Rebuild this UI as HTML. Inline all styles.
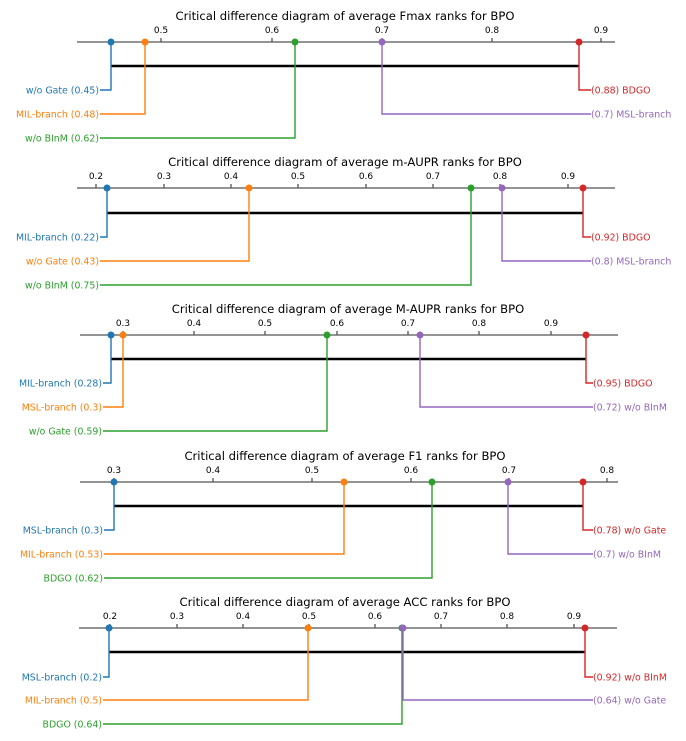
<!DOCTYPE html>
<html><head><meta charset="utf-8"><style>
html,body{margin:0;padding:0;background:#fff}
svg{display:block}
text{font-family:"DejaVu Sans","Liberation Sans",sans-serif}
.t{font-size:11.6px;fill:#000;text-anchor:middle}
.k{font-size:9px;fill:#000;text-anchor:middle}
.l{font-size:9.4px;text-anchor:end}
.r{font-size:9.4px;text-anchor:start}
.ax{stroke:#555;stroke-width:1.3}
.bar{stroke:#000;stroke-width:2.5}
polyline{fill:none;stroke-width:1.4}
</style></head><body>
<svg width="686" height="741" viewBox="0 0 686 741" xmlns="http://www.w3.org/2000/svg">
<!-- Panel 1 -->
<text class="t" x="345" y="20">Critical difference diagram of average Fmax ranks for BPO</text>
<line class="ax" x1="77" y1="42" x2="615" y2="42"/>
<g class="ax"><line x1="161" y1="38" x2="161" y2="42"/><line x1="272" y1="38" x2="272" y2="42"/><line x1="382" y1="38" x2="382" y2="42"/><line x1="492" y1="38" x2="492" y2="42"/><line x1="601" y1="38" x2="601" y2="42"/></g>
<text class="k" x="161" y="33">0.5</text><text class="k" x="272" y="33">0.6</text><text class="k" x="382" y="33">0.7</text><text class="k" x="492" y="33">0.8</text><text class="k" x="601" y="33">0.9</text>
<line class="bar" x1="111" y1="66" x2="579" y2="66"/>
<polyline stroke="#1f77b4" points="111,42 111,90 100,90"/><circle cx="111" cy="42" r="3.5" fill="#1f77b4"/><text class="l" x="99" y="93.5" fill="#1f77b4">w/o Gate (0.45)</text>
<polyline stroke="#ff7f0e" points="145,42 145,114 100,114"/><circle cx="145" cy="42" r="3.5" fill="#ff7f0e"/><text class="l" x="99" y="117.5" fill="#ff7f0e">MIL-branch (0.48)</text>
<polyline stroke="#2ca02c" points="295,42 295,138 100,138"/><circle cx="295" cy="42" r="3.5" fill="#2ca02c"/><text class="l" x="99" y="141.5" fill="#2ca02c">w/o BInM (0.62)</text>
<polyline stroke="#9467bd" points="382,42 382,114 591,114"/><circle cx="382" cy="42" r="3.5" fill="#9467bd"/><text class="r" x="591" y="117.5" fill="#9467bd">(0.7) MSL-branch</text>
<polyline stroke="#d62728" points="579,42 579,90 591,90"/><circle cx="579" cy="42" r="3.5" fill="#d62728"/><text class="r" x="591" y="93.5" fill="#d62728">(0.88) BDGO</text>

<!-- Panel 2 -->
<text class="t" x="345" y="166">Critical difference diagram of average m-AUPR ranks for BPO</text>
<line class="ax" x1="77" y1="188" x2="615" y2="188"/>
<g class="ax"><line x1="96" y1="184" x2="96" y2="188"/><line x1="164" y1="184" x2="164" y2="188"/><line x1="231" y1="184" x2="231" y2="188"/><line x1="298" y1="184" x2="298" y2="188"/><line x1="366" y1="184" x2="366" y2="188"/><line x1="433" y1="184" x2="433" y2="188"/><line x1="500" y1="184" x2="500" y2="188"/><line x1="568" y1="184" x2="568" y2="188"/></g>
<text class="k" x="96" y="179">0.2</text><text class="k" x="164" y="179">0.3</text><text class="k" x="231" y="179">0.4</text><text class="k" x="298" y="179">0.5</text><text class="k" x="366" y="179">0.6</text><text class="k" x="433" y="179">0.7</text><text class="k" x="500" y="179">0.8</text><text class="k" x="568" y="179">0.9</text>
<line class="bar" x1="107" y1="213" x2="583" y2="213"/>
<polyline stroke="#1f77b4" points="107,188 107,237 100,237"/><circle cx="107" cy="188" r="3.5" fill="#1f77b4"/><text class="l" x="99" y="240.5" fill="#1f77b4">MIL-branch (0.22)</text>
<polyline stroke="#ff7f0e" points="249,188 249,261 100,261"/><circle cx="249" cy="188" r="3.5" fill="#ff7f0e"/><text class="l" x="99" y="264.5" fill="#ff7f0e">w/o Gate (0.43)</text>
<polyline stroke="#2ca02c" points="471,188 471,285 100,285"/><circle cx="471" cy="188" r="3.5" fill="#2ca02c"/><text class="l" x="99" y="288.5" fill="#2ca02c">w/o BInM (0.75)</text>
<polyline stroke="#9467bd" points="502,188 502,261 591,261"/><circle cx="502" cy="188" r="3.5" fill="#9467bd"/><text class="r" x="591" y="264.5" fill="#9467bd">(0.8) MSL-branch</text>
<polyline stroke="#d62728" points="583,188 583,237 591,237"/><circle cx="583" cy="188" r="3.5" fill="#d62728"/><text class="r" x="591" y="240.5" fill="#d62728">(0.92) BDGO</text>

<!-- Panel 3 -->
<text class="t" x="348" y="313">Critical difference diagram of average M-AUPR ranks for BPO</text>
<line class="ax" x1="80" y1="335" x2="618" y2="335"/>
<g class="ax"><line x1="123" y1="331" x2="123" y2="335"/><line x1="194" y1="331" x2="194" y2="335"/><line x1="265" y1="331" x2="265" y2="335"/><line x1="337" y1="331" x2="337" y2="335"/><line x1="408" y1="331" x2="408" y2="335"/><line x1="479" y1="331" x2="479" y2="335"/><line x1="551" y1="331" x2="551" y2="335"/></g>
<text class="k" x="123" y="326">0.3</text><text class="k" x="194" y="326">0.4</text><text class="k" x="265" y="326">0.5</text><text class="k" x="337" y="326">0.6</text><text class="k" x="408" y="326">0.7</text><text class="k" x="479" y="326">0.8</text><text class="k" x="551" y="326">0.9</text>
<line class="bar" x1="111" y1="359" x2="586" y2="359"/>
<polyline stroke="#1f77b4" points="111,335 111,383 103,383"/><circle cx="111" cy="335" r="3.5" fill="#1f77b4"/><text class="l" x="102" y="386.5" fill="#1f77b4">MIL-branch (0.28)</text>
<polyline stroke="#ff7f0e" points="123,335 123,407 103,407"/><circle cx="123" cy="335" r="3.5" fill="#ff7f0e"/><text class="l" x="102" y="410.5" fill="#ff7f0e">MSL-branch (0.3)</text>
<polyline stroke="#2ca02c" points="327,335 327,431 103,431"/><circle cx="327" cy="335" r="3.5" fill="#2ca02c"/><text class="l" x="102" y="434.5" fill="#2ca02c">w/o Gate (0.59)</text>
<polyline stroke="#9467bd" points="420,335 420,407 593,407"/><circle cx="420" cy="335" r="3.5" fill="#9467bd"/><text class="r" x="593" y="410.5" fill="#9467bd">(0.72) w/o BInM</text>
<polyline stroke="#d62728" points="586,335 586,383 593,383"/><circle cx="586" cy="335" r="3.5" fill="#d62728"/><text class="r" x="593" y="386.5" fill="#d62728">(0.95) BDGO</text>

<!-- Panel 4 -->
<text class="t" x="345" y="460">Critical difference diagram of average F1 ranks for BPO</text>
<line class="ax" x1="80" y1="482" x2="618" y2="482"/>
<g class="ax"><line x1="114" y1="478" x2="114" y2="482"/><line x1="213" y1="478" x2="213" y2="482"/><line x1="312" y1="478" x2="312" y2="482"/><line x1="411" y1="478" x2="411" y2="482"/><line x1="509" y1="478" x2="509" y2="482"/><line x1="607" y1="478" x2="607" y2="482"/></g>
<text class="k" x="114" y="473">0.3</text><text class="k" x="213" y="473">0.4</text><text class="k" x="312" y="473">0.5</text><text class="k" x="411" y="473">0.6</text><text class="k" x="509" y="473">0.7</text><text class="k" x="607" y="473">0.8</text>
<line class="bar" x1="114" y1="506" x2="583" y2="506"/>
<polyline stroke="#1f77b4" points="114,482 114,530 104,530"/><circle cx="114" cy="482" r="3.5" fill="#1f77b4"/><text class="l" x="103" y="533.5" fill="#1f77b4">MSL-branch (0.3)</text>
<polyline stroke="#ff7f0e" points="344,482 344,554 104,554"/><circle cx="344" cy="482" r="3.5" fill="#ff7f0e"/><text class="l" x="103" y="557.5" fill="#ff7f0e">MIL-branch (0.53)</text>
<polyline stroke="#2ca02c" points="432,482 432,578 104,578"/><circle cx="432" cy="482" r="3.5" fill="#2ca02c"/><text class="l" x="103" y="581.5" fill="#2ca02c">BDGO (0.62)</text>
<polyline stroke="#9467bd" points="508,482 508,554 593,554"/><circle cx="508" cy="482" r="3.5" fill="#9467bd"/><text class="r" x="593" y="557.5" fill="#9467bd">(0.7) w/o BInM</text>
<polyline stroke="#d62728" points="583,482 583,530 593,530"/><circle cx="583" cy="482" r="3.5" fill="#d62728"/><text class="r" x="593" y="533.5" fill="#d62728">(0.78) w/o Gate</text>

<!-- Panel 5 -->
<text class="t" x="345" y="606">Critical difference diagram of average ACC ranks for BPO</text>
<line class="ax" x1="79" y1="628" x2="617" y2="628"/>
<g class="ax"><line x1="110" y1="624" x2="110" y2="628"/><line x1="177" y1="624" x2="177" y2="628"/><line x1="243" y1="624" x2="243" y2="628"/><line x1="309" y1="624" x2="309" y2="628"/><line x1="375" y1="624" x2="375" y2="628"/><line x1="441" y1="624" x2="441" y2="628"/><line x1="507" y1="624" x2="507" y2="628"/><line x1="574" y1="624" x2="574" y2="628"/></g>
<text class="k" x="110" y="619">0.2</text><text class="k" x="177" y="619">0.3</text><text class="k" x="243" y="619">0.4</text><text class="k" x="309" y="619">0.5</text><text class="k" x="375" y="619">0.6</text><text class="k" x="441" y="619">0.7</text><text class="k" x="507" y="619">0.8</text><text class="k" x="574" y="619">0.9</text>
<line class="bar" x1="109" y1="652" x2="585" y2="652"/>
<polyline stroke="#1f77b4" points="109,628 109,677 103,677"/><circle cx="109" cy="628" r="3.5" fill="#1f77b4"/><text class="l" x="102" y="680.5" fill="#1f77b4">MSL-branch (0.2)</text>
<polyline stroke="#ff7f0e" points="308,628 308,700 103,700"/><circle cx="308" cy="628" r="3.5" fill="#ff7f0e"/><text class="l" x="102" y="703.5" fill="#ff7f0e">MIL-branch (0.5)</text>
<polyline stroke="#2ca02c" points="402,628 402,724 103,724"/><circle cx="402" cy="628" r="3.5" fill="#2ca02c"/><text class="l" x="102" y="727.5" fill="#2ca02c">BDGO (0.64)</text>
<polyline stroke="#9467bd" points="403,628 403,700 593,700"/><circle cx="403" cy="628" r="3.5" fill="#9467bd"/><text class="r" x="593" y="703.5" fill="#9467bd">(0.64) w/o Gate</text>
<polyline stroke="#d62728" points="585,628 585,677 593,677"/><circle cx="585" cy="628" r="3.5" fill="#d62728"/><text class="r" x="593" y="680.5" fill="#d62728">(0.92) w/o BInM</text>
</svg>
</body></html>
